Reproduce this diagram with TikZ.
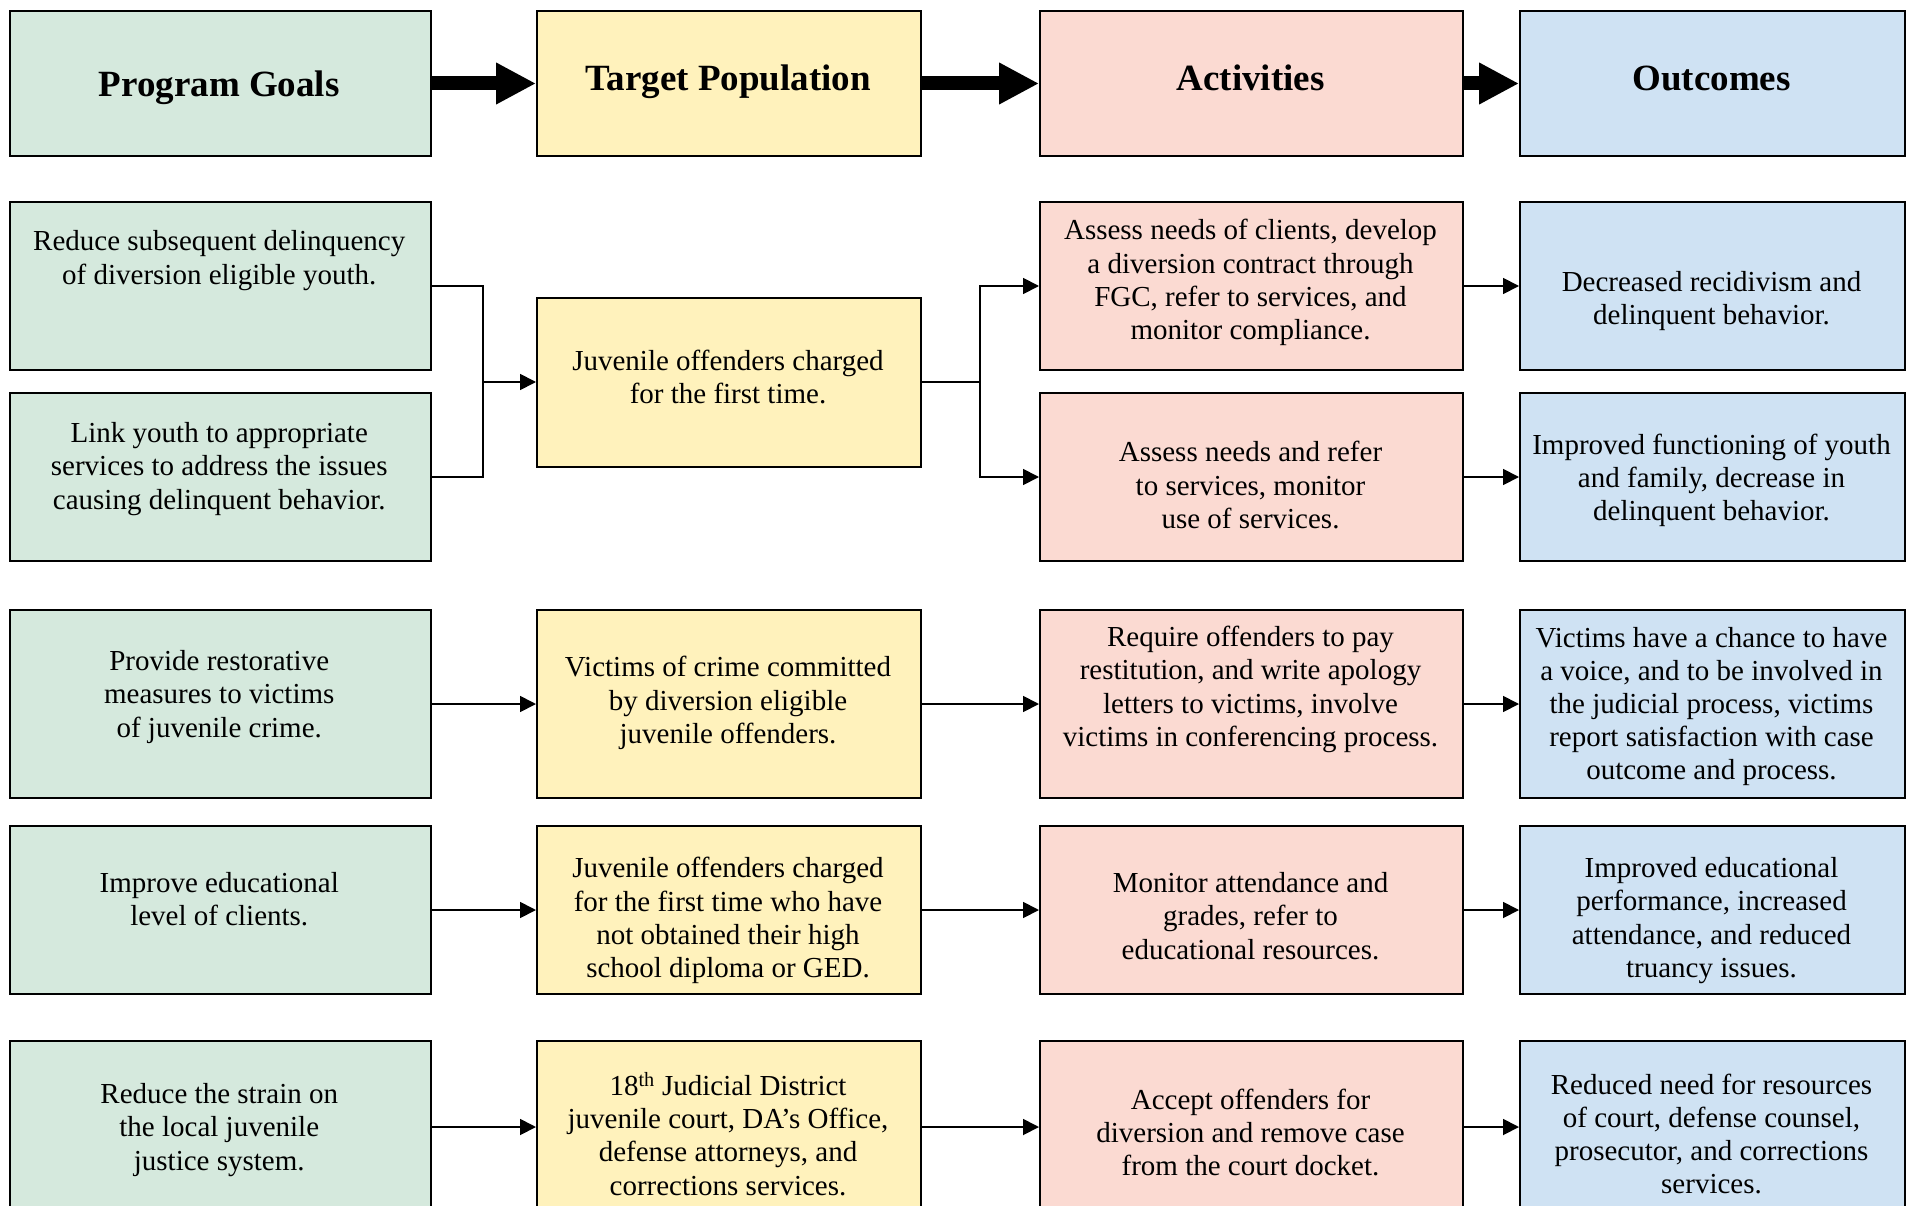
\documentclass[tikz,border=0pt]{standalone}
\usepackage{fontspec}
\setmainfont{Liberation Serif}
\usetikzlibrary{arrows.meta}
\definecolor{cgreen}{HTML}{D5E9DD}
\definecolor{cyellow}{HTML}{FFF2BC}
\definecolor{cred}{HTML}{FBDAD2}
\definecolor{cblue}{HTML}{CFE2F3}
\newcommand{\bodyfnt}{\fontsize{29}{33.2}\selectfont}
\newcommand{\hdrfnt}{\fontsize{37}{42}\selectfont\bfseries}
\tikzset{
  box/.style={draw=black, line width=2pt, inner sep=0pt, anchor=north west},
  colA/.style={box, fill=cgreen, minimum width=421.5pt},
  colB/.style={box, fill=cyellow, minimum width=384pt},
  colC/.style={box, fill=cred, minimum width=423pt},
  colD/.style={box, fill=cblue, minimum width=385pt},
  txt/.style={align=center, font=\bodyfnt, inner sep=0pt, text=black},
  htxt/.style={align=center, font=\hdrfnt, inner sep=0pt, text=black},
  plainline/.style={line width=1.8pt},
  conn/.style={line width=1.8pt, -{Triangle[length=16pt 0 0, width=16pt 0 0]}},
  hdrarrow/.style={line width=14pt, -{Triangle[length=40pt 0 0, width=39pt 0 0]}},
}
\begin{document}
\begin{tikzpicture}[x=1pt,y=-1pt]
\useasboundingbox (0,0) rectangle (1910,1206);
% headers
\node[colA, minimum height=145pt] (pg) at (8.5,10) {};
\node[colB, minimum height=145pt] (tp) at (536,10) {};
\node[colC, minimum height=145pt] (ac) at (1039,10) {};
\node[colD, minimum height=145pt] (oc) at (1519,10) {};
\node[htxt] (pgt) at (219.25,87.5) {Program Goals};
\node[htxt] (tpt) at (728,81.5) {Target Population};
\node[htxt] (act) at (1250.5,78) {Activities};
\node[htxt] (oct) at (1711.5,78) {Outcomes};
\draw[hdrarrow] (pg.east) -- (tp.west);
\draw[hdrarrow] (tp.east) -- (ac.west);
\draw[hdrarrow] (ac.east) -- (oc.west);
% rows 1-2
\node[colA, minimum height=168pt] (g1) at (8.5,201) {};
\node[colA, minimum height=168pt] (g2) at (8.5,392) {};
\node[colB, minimum height=169pt] (y1) at (536,296.5) {};
\node[colC, minimum height=168pt] (r1) at (1039,201) {};
\node[colC, minimum height=168pt] (r2) at (1039,392) {};
\node[colD, minimum height=168pt] (b1) at (1519,201) {};
\node[colD, minimum height=168pt] (b2) at (1519,392) {};
\node[txt] (g1t) at (219.25,260.5) {Reduce subsequent delinquency\\of diversion eligible youth.};
\node[txt] (g2t) at (219.25,469) {Link youth to appropriate\\services to address the issues\\causing delinquent behavior.};
\node[txt] (y1t) at (728,377) {Juvenile offenders charged\\for the first time.};
\node[txt] (r1t) at (1250.5,282.5) {Assess needs of clients, develop\\a diversion contract through\\FGC, refer to services, and\\monitor compliance.};
\node[txt] (r2t) at (1250.5,485) {Assess needs and refer\\to services, monitor\\use of services.};
\node[txt] (b1t) at (1711.5,301) {Decreased recidivism and\\delinquent behavior.};
\node[txt] (b2t) at (1711.5,480.5) {Improved functioning of youth\\and family, decrease in\\delinquent behavior.};
\coordinate (mj) at ([xshift=-53pt]y1.west);
\coordinate (sj) at ([xshift=58pt]y1.east);
\draw[plainline] (g1.east) -| (mj);
\draw[plainline] (g2.east) -| (mj);
\draw[conn] (mj) -- (y1.west);
\draw[plainline] (y1.east) -- (sj);
\draw[conn] (sj) |- (r1.west);
\draw[conn] (sj) |- (r2.west);
\draw[conn] (r1.east) -- (b1.west);
\draw[conn] (r2.east) -- (b2.west);
% row 3
\node[colA, minimum height=188pt] (g3) at (8.5,609) {};
\node[colB, minimum height=188pt] (y3) at (536,609) {};
\node[colC, minimum height=188pt] (r3) at (1039,609) {};
\node[colD, minimum height=188pt] (b3) at (1519,609) {};
\node[txt] (g3t) at (219.25,697) {Provide restorative\\measures to victims\\of juvenile crime.};
\node[txt] (y3t) at (728,703) {Victims of crime committed\\by diversion eligible\\juvenile offenders.};
\node[txt] (r3t) at (1250.5,689.5) {Require offenders to pay\\restitution, and write apology\\letters to victims, involve\\victims in conferencing process.};
\node[txt] (b3t) at (1711.5,706.5) {Victims have a chance to have\\a voice, and to be involved in\\the judicial process, victims\\report satisfaction with case\\outcome and process.};
\draw[conn] (g3.east) -- (y3.west);
\draw[conn] (y3.east) -- (r3.west);
\draw[conn] (r3.east) -- (b3.west);
% row 4
\node[colA, minimum height=168pt] (g4) at (8.5,825) {};
\node[colB, minimum height=168pt] (y4) at (536,825) {};
\node[colC, minimum height=168pt] (r4) at (1039,825) {};
\node[colD, minimum height=168pt] (b4) at (1519,825) {};
\node[txt] (g4t) at (219.25,899) {Improve educational\\level of clients.};
\node[txt] (y4t) at (728,920.5) {Juvenile offenders charged\\for the first time who have\\not obtained their high\\school diploma or GED.};
\node[txt] (r4t) at (1250.5,916) {Monitor attendance and\\grades, refer to\\educational resources.};
\node[txt] (b4t) at (1711.5,920.5) {Improved educational\\performance, increased\\attendance, and reduced\\truancy issues.};
\draw[conn] (g4.east) -- (y4.west);
\draw[conn] (y4.east) -- (r4.west);
\draw[conn] (r4.east) -- (b4.west);
% row 5
\node[colA, minimum height=172pt] (g5) at (8.5,1040) {};
\node[colB, minimum height=172pt] (y5) at (536,1040) {};
\node[colC, minimum height=172pt] (r5) at (1039,1040) {};
\node[colD, minimum height=172pt] (b5) at (1519,1040) {};
\node[txt] (g5t) at (219.25,1130) {Reduce the strain on\\the local juvenile\\justice system.};
\node[txt] (y5t) at (728,1134) {18\textsuperscript{th} Judicial District\\juvenile court, DA’s Office,\\defense attorneys, and\\corrections services.};
\node[txt] (r5t) at (1250.5,1132.5) {Accept offenders for\\diversion and remove case\\from the court docket.};
\node[txt] (b5t) at (1711.5,1134) {Reduced need for resources\\of court, defense counsel,\\prosecutor, and corrections\\services.};
\draw[conn] (g5.east) -- (y5.west);
\draw[conn] (y5.east) -- (r5.west);
\draw[conn] (r5.east) -- (b5.west);
\end{tikzpicture}
\end{document}
